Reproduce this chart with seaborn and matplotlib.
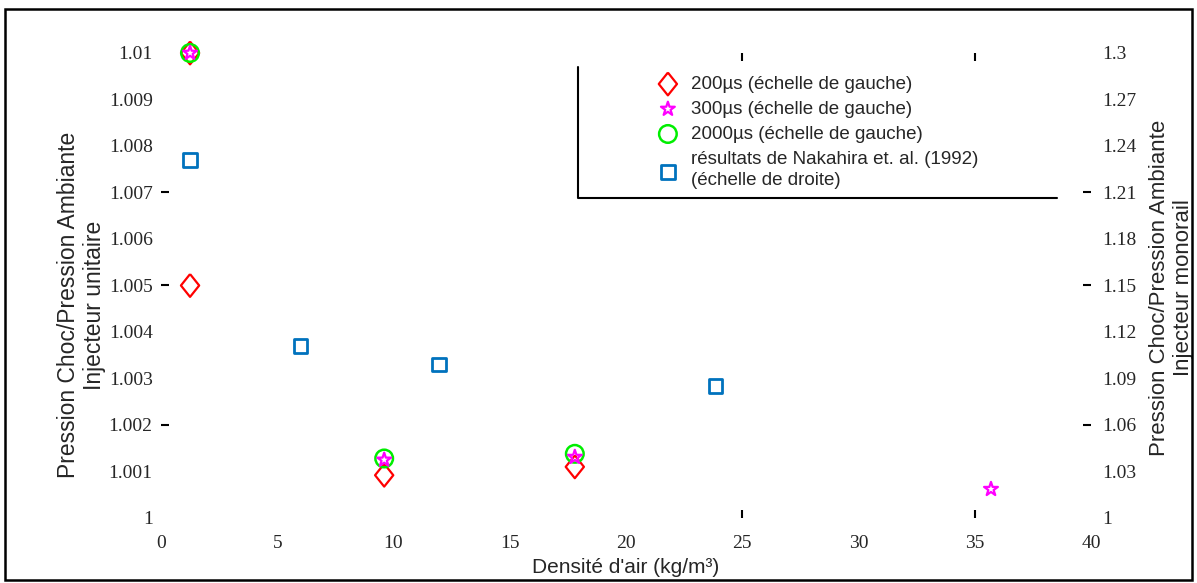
import numpy as np
import pandas as pd
import matplotlib
matplotlib.use('Agg')
import matplotlib.pyplot as plt
import seaborn as sns
from matplotlib.patches import Rectangle

# values
x_200 = [1.25, 1.25, 9.6, 17.8]
y_200 = [1.010, 1.0050, 1.00092, 1.0011]

x_300 = [1.25, 9.6, 17.8, 35.7]
y_300 = [1.010, 1.00125, 1.00131, 1.00062]

x_2000 = [1.25, 9.6, 17.8]
y_2000 = [1.010, 1.00128, 1.00138]

x_nakahira = [1.25, 6.0, 11.95, 23.85]
y_nakahira = [1.231, 1.111, 1.099, 1.085]

left_ticks = [1, 1.001, 1.002, 1.003, 1.004, 1.005, 1.006, 1.007, 1.008, 1.009, 1.01]
right_ticks = [1, 1.03, 1.06, 1.09, 1.12, 1.15, 1.18, 1.21, 1.24, 1.27, 1.3]
x_ticks = [0, 5, 10, 15, 20, 25, 30, 35, 40]

labels = ['200\u00b5s (échelle de gauche)',
          '300\u00b5s (échelle de gauche)',
          '2000\u00b5s (échelle de gauche)',
          'résultats de Nakahira et. al. (1992)\n(échelle de droite)']

sns.set_style('white')
plt.rcParams['font.family'] = ['Liberation Sans', 'DejaVu Sans']

fig = plt.figure(figsize=(11.97, 5.83), dpi=100)
ax = fig.add_axes([0.1345, 0.1115, 0.7769, 0.7976])
ax2 = ax.twinx()

# tall diamond like the reference
tall_diamond = [(0, 1), (0.8, 0), (0, -1), (-0.8, 0), (0, 1)]

sns.scatterplot(x=x_200, y=y_200, marker=tall_diamond, s=270, facecolor='none',
                edgecolor='#ff0000', linewidth=1.6, label=labels[0], ax=ax,
                zorder=3, clip_on=False)
sns.scatterplot(x=x_2000, y=y_2000, marker='o', s=160, facecolor='none',
                edgecolor='#00ee00', linewidth=1.8, label=labels[2], ax=ax,
                zorder=3, clip_on=False)
sns.scatterplot(x=x_300, y=y_300, marker='*', s=110, facecolor='none',
                edgecolor='#ff00ff', linewidth=1.6, label=labels[1], ax=ax,
                zorder=4, clip_on=False)
sns.scatterplot(x=x_nakahira, y=y_nakahira, marker='s', s=100, facecolor='none',
                edgecolor='#0072bd', linewidth=2, label=labels[3], ax=ax2,
                zorder=3, clip_on=False)

ax.set_xlim(0, 40)
ax.set_ylim(1, 1.01)
ax2.set_ylim(1, 1.3)

serif = ['Liberation Serif', 'DejaVu Serif']
ax.set_xticks(x_ticks)
ax.set_xticklabels([f'{v:g}' for v in x_ticks], family=serif, fontsize=14)
ax.set_yticks(left_ticks)
ax.set_yticklabels([f'{v:g}' for v in left_ticks], family=serif, fontsize=14)
ax2.set_yticks(right_ticks)
ax2.set_yticklabels([f'{v:g}' for v in right_ticks], family=serif, fontsize=14)

ax.tick_params(axis='both', direction='in', length=6, width=1.5, color='black',
               top=True, pad=6)
ax.tick_params(axis='x', pad=12)
ax2.tick_params(axis='y', direction='in', length=6, width=1.5, color='black', pad=8)

# only some tick marks survive in the reference
for i, t in enumerate(ax.xaxis.get_major_ticks()):
    keep = x_ticks[i] in (25, 35)
    t.tick1line.set_visible(keep)
    t.tick2line.set_visible(keep)
for i, t in enumerate(ax.yaxis.get_major_ticks()):
    t.tick1line.set_visible(i in (2, 5, 7))
    t.tick2line.set_visible(False)
for i, t in enumerate(ax2.yaxis.get_major_ticks()):
    t.tick2line.set_visible(i in (2, 5, 7))
    t.tick1line.set_visible(False)

for a in (ax, ax2):
    for s in a.spines.values():
        s.set_visible(False)

ax.set_xlabel('Densité d\'air (kg/m³)', fontsize=15)
ax.xaxis.set_label_coords(0.5, -0.085)
ax.set_ylabel('Pression Choc/Pression Ambiante\nInjecteur unitaire', fontsize=16.5)
ax.yaxis.set_label_coords(-0.059, 0.458)
ax2.set_ylabel('Pression Choc/Pression Ambiante\nInjecteur monorail', fontsize=16)
ax2.yaxis.set_label_coords(1.062, 0.495)

# one legend for both axes
h1, l1 = ax.get_legend_handles_labels()
h2, l2 = ax2.get_legend_handles_labels()
if ax.get_legend():
    ax.get_legend().remove()
if ax2.get_legend():
    ax2.get_legend().remove()
order = [0, 2, 1]
handles = [h1[i] for i in order] + h2
texts = [l1[i] for i in order] + l2
leg = ax2.legend(handles, texts, loc='upper left', bbox_to_anchor=(0.535, 0.951),
                 frameon=False, fontsize=13.5, handlelength=1.0, handletextpad=0.75,
                 labelspacing=0.42, borderpad=0, borderaxespad=0)
leg.get_texts()[3].set_linespacing(1.35)

# the legend box only shows its left and bottom edges
ax2.plot([0.448, 0.448, 0.963], [0.97, 0.688, 0.688], color='black', lw=1.5,
         transform=ax2.transAxes, clip_on=False)

fig.patches.append(Rectangle((0.004, 0.005), 0.992, 0.98, transform=fig.transFigure,
                             fill=False, edgecolor='black', lw=1.8))

fig.savefig('out.png', dpi=100)
